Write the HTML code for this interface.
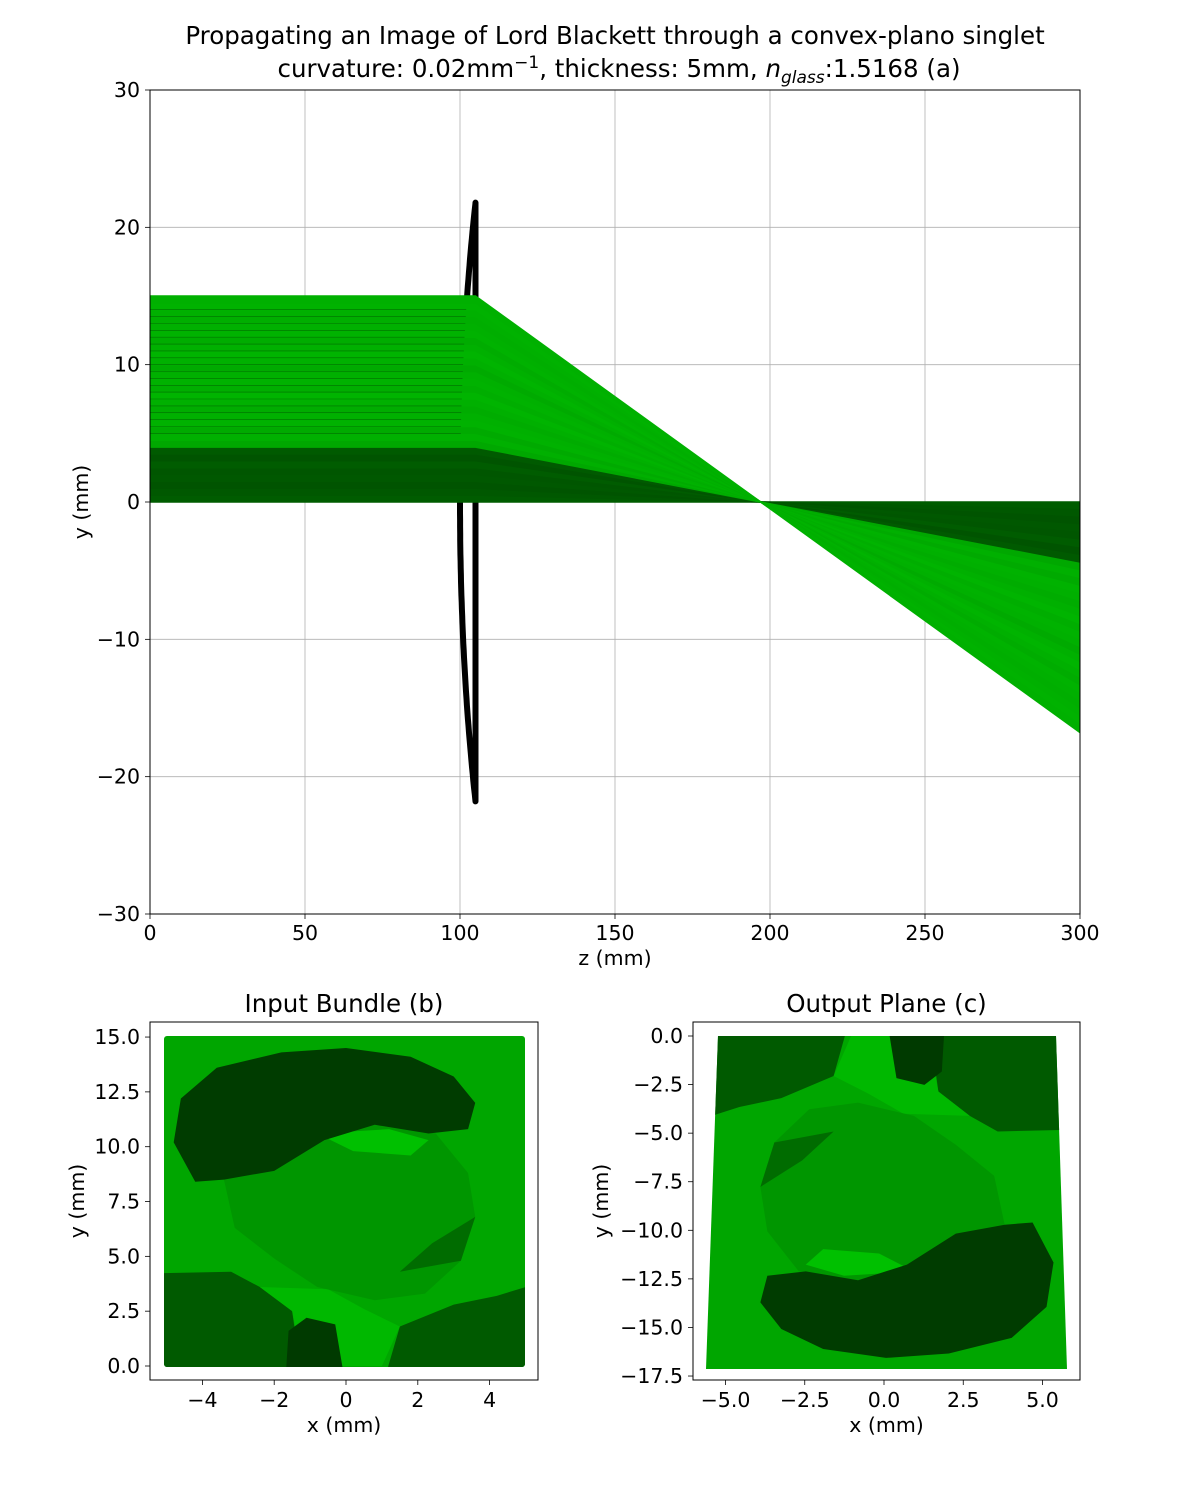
<!DOCTYPE html>
<html><head><meta charset="utf-8">
<style>
body{margin:0;background:#fff;}
svg text{font-family:"DejaVu Sans","Liberation Sans",sans-serif;fill:#000;}
</style></head>
<body>
<svg id="fig" width="1200" height="1500" viewBox="0 0 1200 1500" xmlns="http://www.w3.org/2000/svg">
<rect width="1200" height="1500" fill="#fff"/>
<text x="615" y="44" font-size="24.5" text-anchor="middle">Propagating an Image of Lord Blackett through a convex-plano singlet</text>
<text x="619" y="77" font-size="24.5" text-anchor="middle">curvature: 0.02mm<tspan dy="-9" font-size="17">−1</tspan><tspan dy="9">, thickness: 5mm, </tspan><tspan font-style="italic">n</tspan><tspan dy="6" font-size="17" font-style="italic">glass</tspan><tspan dy="-6">:1.5168 (a)</tspan></text>
<defs>
<clipPath id="clipMain"><rect x="150" y="90" width="930" height="824"/></clipPath>
<clipPath id="clipB"><rect x="164" y="1036" width="361" height="331" rx="3"/></clipPath>
<clipPath id="clipC"><polygon points="718,1036 1056,1036 1067,1369 706,1369"/></clipPath>
</defs>
<g id="main"></g>
<g id="panelB"></g>
<g id="panelC"></g>
</svg>
<script>
// main chart data
const zTicks = [0, 50, 100, 150, 200, 250, 300];
const yTicks = [30, 20, 10, 0, -10, -20, -30];
const rayHeights = [0,0.5,1,1.5,2,2.5,3,3.5,4,4.5,5,5.5,6,6.5,7,7.5,8,8.5,9,9.5,10,10.5,11,11.5,12,12.5,13,13.5,14,14.5,15];
const rayShade   = ['#005c00','#005800','#005400','#005800','#005600','#005c00','#005400','#005a00','#00a800','#00b000','#00aa00','#00b200','#00b000','#00ac00','#00b000','#00b400','#00ae00','#00b200','#00b000','#00aa00','#00b000','#00b400','#00b000','#00ac00','#00b200','#00b000','#00ae00','#00b000','#00b200','#00b000'];
const lensCurvature = [0.02];
const lensThickness = [5];
const lensFront = [100];
const lensHalfHeight = [21.8];
const focusZ = [197];
const zEnd = [300];
// bottom panels data
const bXTicks = [-4,-2,0,2,4];
const bYTicks = [0,2.5,5,7.5,10,12.5,15];
const cXTicks = [-5,-2.5,0,2.5,5];
const cYTicks = [0,-2.5,-5,-7.5,-10,-12.5,-15,-17.5];

const NS = 'http://www.w3.org/2000/svg';
function mk(tag, attrs, parent){const e=document.createElementNS(NS,tag);for(const k in attrs)e.setAttribute(k,attrs[k]);parent.appendChild(e);return e;}
const fmt = v => (v<0?'−':'')+Math.abs(v);
const fmt1 = v => (v<0?'−':'')+Math.abs(v).toFixed(1);
const FS = 20.5;

// main axes
const X = z => 150 + (z-0)/300*930;
const Y = y => 502 - y/30*412;
const main = document.getElementById('main');
zTicks.forEach(t=>{
  const g=mk('line',{x1:X(t),x2:X(t),y1:90,y2:914,stroke:'#b0b0b0','stroke-width':0.8},main);
  
  
  const tk=mk('line',{x1:X(t),x2:X(t),y1:914,y2:919,stroke:'#000','stroke-width':0.8},main);
  
  
  const tx=mk('text',{x:X(t),y:940,'font-size':FS,'text-anchor':'middle'},main);
  tx.textContent=fmt(t);
  
  
});
yTicks.forEach(t=>{
  const g=mk('line',{x1:150,x2:1080,y1:Y(t),y2:Y(t),stroke:'#b0b0b0','stroke-width':0.8},main);
  
  
  const tk=mk('line',{x1:145,x2:150,y1:Y(t),y2:Y(t),stroke:'#000','stroke-width':0.8},main);
  
  
  const tx=mk('text',{x:140,y:Y(t)+7,'font-size':FS,'text-anchor':'end'},main);
  tx.textContent=fmt(t);
  
  
});
const plot = mk('g',{'clip-path':'url(#clipMain)'},main);


// lens
const R = 1/lensCurvature[0];
const back = lensFront[0] + lensThickness[0];
const sagZ = y => lensFront[0] + (R - Math.sqrt(R*R - y*y));
let d='';
for(let y=-lensHalfHeight[0]; y<=lensHalfHeight[0]+0.001; y+=0.5){d+=(d?'L':'M')+X(sagZ(y)).toFixed(1)+','+Y(y).toFixed(1);}
d+='L'+X(back)+','+Y(lensHalfHeight[0])+'L'+X(back)+','+Y(-lensHalfHeight[0])+'Z';
const lens=mk('path',{d:d,fill:'none',stroke:'#000','stroke-width':6,'stroke-linejoin':'round'},plot);


// rays
const outY = h => -h*(zEnd[0]-focusZ[0])/(focusZ[0]-back);
for(let i=0;i<rayHeights.length-1;i++){
  const a=rayHeights[i], b=rayHeights[i+1];
  const pts=[[0,a],[back,a],[focusZ[0],0],[zEnd[0],outY(a)],[zEnd[0],outY(b)],[focusZ[0],0],[back,b],[0,b]];
  const p=mk('polygon',{points:pts.map(q=>X(q[0]).toFixed(1)+','+Y(q[1]).toFixed(1)).join(' '),fill:rayShade[i],stroke:rayShade[i],'stroke-width':1.5},plot);
  
  
}
rayHeights.forEach((h,i)=>{
  if(h<=4.5||h>=14.5) return;
  const l=mk('polyline',{points:[[0,h],[sagZ(h),h]].map(q=>X(q[0]).toFixed(1)+','+Y(q[1]).toFixed(1)).join(' '),fill:'none',stroke:'#007000','stroke-width':0.6},plot);
  
  
});
const fr=mk('rect',{x:150,y:90,width:930,height:824,fill:'none',stroke:'#000','stroke-width':1},main);


const xl=mk('text',{x:615,y:965,'font-size':FS,'text-anchor':'middle'},main);
xl.textContent='z (mm)';


const yl=mk('text',{x:0,y:0,'font-size':FS,'text-anchor':'middle',transform:'translate(88,502) rotate(-90)'},main);
yl.textContent='y (mm)';



// portrait drawn in image units
function portrait(parent, m){
  const g=mk('g',{transform:m},parent);
  
  
  const shapes=[
    ['rect',{x:-6,y:-1,width:12,height:17,fill:'#00a600'}],
    ['polygon',{points:'-6,-1 -6,4.2 -3.2,4.3 -2.4,3.6 -1.5,2.5 -1.2,-1',fill:'#005a00'}],
    ['polygon',{points:'1,-1 1.5,1.8 3,2.8 4.2,3.2 6,4.1 6,-1',fill:'#005a00'}],
    ['polygon',{points:'-2.4,3.6 -1.5,2.5 -1.2,0 1,0 1.5,1.8 0.5,2.6 -0.5,3.5',fill:'#00b800'}],
    ['polygon',{points:'-3.4,8.5 -3.1,6.3 -2,4.9 -0.8,3.6 0.8,3 2.2,3.3 3.2,4.8 3.6,6.8 3.4,8.8 2.5,10.6 0.8,11 -1.5,10.2',fill:'#009600'}],
    ['polygon',{points:'-0.8,10.6 1.2,10.8 2.3,10.3 1.8,9.6 0.2,9.8',fill:'#00c000'}],
    ['polygon',{points:'-4.8,10.2 -4.6,12.2 -3.6,13.6 -1.8,14.3 0,14.5 1.8,14.1 3,13.2 3.6,12 3.4,10.8 2.3,10.6 0.8,11 -0.6,10.3 -2,8.9 -3.4,8.5 -4.2,8.4',fill:'#003c00'}],
    ['polygon',{points:'-1.7,-1 -1.6,1.6 -1.1,2.2 -0.3,1.9 0,-1',fill:'#003a00'}],
    ['polygon',{points:'1.5,4.3 3.2,4.8 3.6,6.8 2.4,5.6',fill:'#006c00'}]
  ];
  shapes.forEach(s=>mk(s[0],s[1],g));
}
function panel(id, x0, x1, y0, y1, xm, xb, ym, yb, xt, yt, xf, yf, title, clip, imgM, ylx){
  const P=document.getElementById(id);
  const cl=mk('g',{'clip-path':'url(#'+clip+')'},P);
  portrait(cl, imgM);
  xt.forEach(t=>{
    const px=xb+xm*t;
    const tk=mk('line',{x1:px,x2:px,y1:y1,y2:y1+5,stroke:'#000','stroke-width':0.8},P);
    
    
    const tx=mk('text',{x:px,y:y1+27,'font-size':FS,'text-anchor':'middle'},P);
    tx.textContent=xf(t);
    
    
  });
  yt.forEach(t=>{
    const py=yb-ym*t;
    const tk=mk('line',{x1:x0-5,x2:x0,y1:py,y2:py,stroke:'#000','stroke-width':0.8},P);
    
    
    const tx=mk('text',{x:x0-10,y:py+7,'font-size':FS,'text-anchor':'end'},P);
    tx.textContent=yf(t);
    
    
  });
  const f=mk('rect',{x:x0,y:y0,width:x1-x0,height:y1-y0,fill:'none',stroke:'#000','stroke-width':1},P);
  
  
  const tt=mk('text',{x:(x0+x1)/2,y:y0-10,'font-size':24.5,'text-anchor':'middle'},P);
  tt.textContent=title;
  
  
  const xl=mk('text',{x:(x0+x1)/2,y:y1+52,'font-size':FS,'text-anchor':'middle'},P);
  xl.textContent='x (mm)';
  
  
  const yl=mk('text',{x:0,y:0,'font-size':FS,'text-anchor':'middle',transform:'translate('+ylx+','+((y0+y1)/2)+') rotate(-90)'},P);
  yl.textContent='y (mm)';
  
  
}
panel('panelB',150,538,1022,1380,35.9,346,21.93,1366,bXTicks,bYTicks,fmt,fmt1,'Input Bundle (b)','clipB','matrix(35.9,0,0,-21.93,346,1366)',84);
panel('panelC',693,1080,1022,1380,31.7,884,19.43,1036,cXTicks,cYTicks,fmt1,fmt1,'Output Plane (c)','clipC','matrix(-34.9,0,0,22.2,886,1036)',608);
</script>
</body></html>
